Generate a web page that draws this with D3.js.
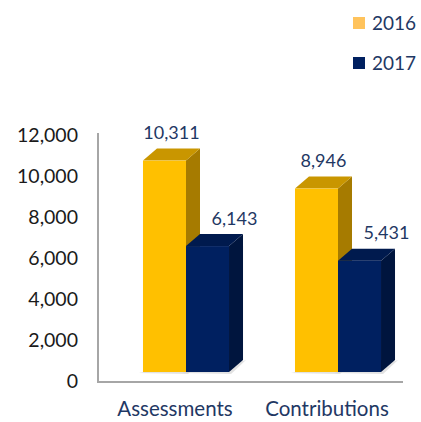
<!DOCTYPE html>
<html>
<head>
<meta charset="utf-8">
<script src="https://cdn.jsdelivr.net/npm/d3@7"></script>
<style>
  body { margin: 0; background: #fff; }
  text { font-family: Lato, "Open Sans", sans-serif; }
</style>
</head>
<body>
<svg width="421" height="422"></svg>
<script>
// chart data
const categories = ["Assessments", "Contributions"];
const seriesNames = ["2016", "2017"];
const values2016 = [10311, 8946];
const values2017 = [6143, 5431];
const yTicks = [0, 2000, 4000, 6000, 8000, 10000, 12000];

window.onload = () => {
  const svg = d3.select("svg");

  const faces = {
    "2016": { front: "#FFC000", top: "#C99600", side: "#A67B00", legend: "#FFC35C" },
    "2017": { front: "#002060", top: "#001A4E", side: "#00153E", legend: "#002060" }
  };
  const depth = { dx: 14, dy: -12 };
  const labelShift = { "2016": 7, "2017": 27 };

  const yScale = d3.scaleLinear().domain([0, 12000]).range([372, 126]);

  const x0 = d3.scaleBand()
    .domain(categories)
    .range([110, 414])
    .paddingInner(0.434)
    .paddingOuter(0.217);
  const x1 = d3.scaleBand()
    .domain(seriesNames)
    .range([0, x0.bandwidth()]);

  const data = [];
  categories.forEach((c, i) => {
    data.push({ cat: c, s: "2016", v: values2016[i] });
    data.push({ cat: c, s: "2017", v: values2017[i] });
  });

  // walls / floor edge
  svg.append("path")
    .attr("d", `M98,133 V382 H403`)
    .attr("fill", "none")
    .attr("stroke", "#a6a6a6")
    .attr("stroke-width", 2);

  // y tick labels
  const yAxis = d3.axisLeft(yScale)
    .tickValues(yTicks)
    .tickSize(0)
    .tickPadding(0)
    .tickFormat(d3.format(","));
  const yg = svg.append("g")
    .attr("transform", `translate(78,9)`)
    .call(yAxis);
  yg.select(".domain").remove();
  yg.selectAll("text")
    .attr("fill", "#1a1a1a")
    .style("font-size", "19.5px")
    .style("font-family", "Lato, sans-serif");

  // bars drawn as 3D boxes
  const bars = svg.append("g");
  data.forEach(d => {
    const x = x0(d.cat) + x1(d.s);
    const w = x1.bandwidth();
    const yb = yScale(0);
    const yt = yScale(d.v);
    const f = faces[d.s];
    const g = bars.append("g");
    // base shadow
    g.append("path")
      .attr("d", `M${x - 4},${yb + 1} L${x + w + depth.dx},${yb + 1 + depth.dy} L${x + w + depth.dx + 3},${yb + depth.dy} L${x + w + 2},${yb + 2} Z`)
      .attr("fill", "#cfcfcf")
      .attr("opacity", 0.6);
    g.append("path")
      .attr("d", `M${x + w},${yb} L${x + w + depth.dx},${yb + depth.dy} L${x + w + depth.dx},${yt + depth.dy} L${x + w},${yt} Z`)
      .attr("fill", f.side);
    g.append("path")
      .attr("d", `M${x},${yt} L${x + depth.dx},${yt + depth.dy} L${x + w + depth.dx},${yt + depth.dy} L${x + w},${yt} Z`)
      .attr("fill", f.top);
    g.append("rect")
      .attr("x", x)
      .attr("y", yt)
      .attr("width", w)
      .attr("height", yb - yt)
      .attr("fill", f.front);
  });

  // value labels
  svg.append("g")
    .selectAll("text")
    .data(data)
    .join("text")
    .attr("x", d => x0(d.cat) + x1(d.s) + x1.bandwidth() / 2 + labelShift[d.s])
    .attr("y", d => yScale(d.v) + depth.dy - 15.5)
    .attr("dy", "0.35em")
    .attr("text-anchor", "middle")
    .attr("fill", "#1F3864")
    .style("font-size", "18px")
    .text(d => d3.format(",")(d.v));

  // category labels
  svg.append("g")
    .selectAll("text")
    .data(categories)
    .join("text")
    .attr("x", d => x0(d) + x0.bandwidth() / 2 - 11)
    .attr("y", 409)
    .attr("dy", "0.35em")
    .attr("text-anchor", "middle")
    .attr("fill", "#1F3864")
    .style("font-size", "20.5px")
    .text(d => d);

  // legend
  const legend = svg.append("g")
    .selectAll("g")
    .data(seriesNames)
    .join("g")
    .attr("transform", (d, i) => `translate(353,${17 + i * 40})`);
  legend.append("rect")
    .attr("width", 12)
    .attr("height", 12)
    .attr("fill", d => faces[d].legend);
  legend.append("text")
    .attr("x", 19)
    .attr("y", 6)
    .attr("dy", "0.35em")
    .attr("fill", "#1F3864")
    .style("font-size", "19px")
    .text(d => d);
};
</script>
</body>
</html>
